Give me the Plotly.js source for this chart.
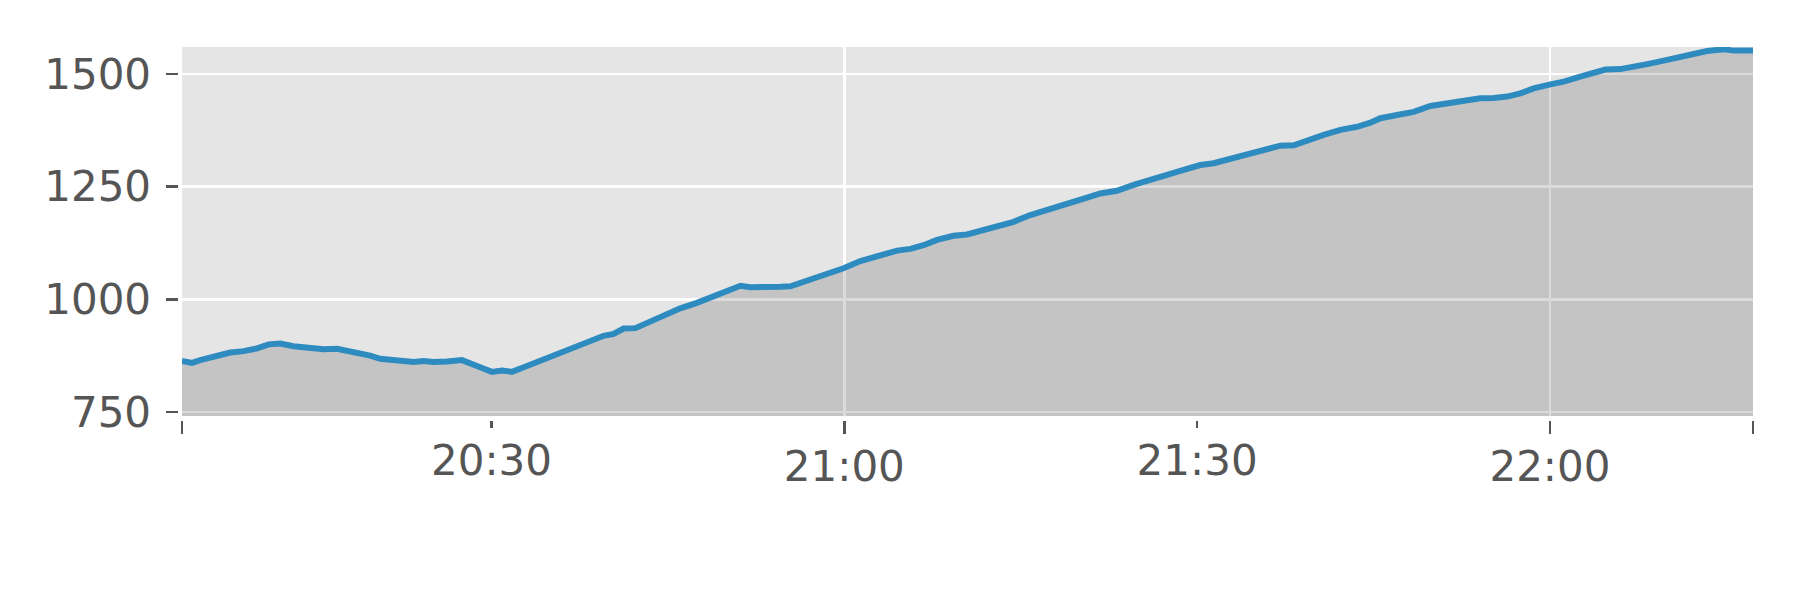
<!DOCTYPE html>
<html>
<head>
<meta charset="utf-8">
<script src="https://cdn.plot.ly/plotly-3.0.1.min.js"></script>
<style>html,body{margin:0;padding:0;background:#fff;}#chart{width:1800px;height:600px;}</style>
</head>
<body>
<div id="chart"></div>
<script>
const day = '2021-01-01 ';
const times = [
  '20:03:41','20:04:32','20:05:14','20:06:22','20:07:47','20:08:55','20:10:04','20:11:03','20:12:02','20:13:10',
  '20:14:35','20:15:43','20:16:52','20:17:34','20:18:08','20:18:50','20:19:41','20:20:32','20:21:41','20:23:23',
  '20:24:14','20:25:05','20:26:13','20:27:29','20:28:46','20:30:02','20:30:53','20:31:44','20:33:01','20:34:43',
  '20:35:59','20:37:33','20:39:32','20:40:23','20:41:14','20:42:14','20:43:13','20:44:38','20:46:03','20:47:28',
  '20:48:53','20:50:02','20:51:10','20:52:01','20:53:26','20:54:34','20:55:25','20:56:16','20:57:23','20:58:49',
  '20:59:56','21:01:22','21:03:04','21:04:29','21:05:37','21:06:44','21:07:53','21:09:17','21:10:26','21:11:34',
  '21:12:59','21:14:24','21:15:49','21:17:14','21:18:22','21:19:30','21:20:55','21:21:46','21:23:11','21:24:36',
  '21:26:01','21:27:09','21:28:34','21:30:16','21:31:24','21:32:49','21:34:14','21:35:39','21:37:04','21:38:13',
  '21:39:21','21:40:46','21:42:11','21:43:36','21:44:44','21:45:35','21:47:00','21:48:25','21:49:50','21:51:15',
  '21:52:40','21:54:05','21:55:13','21:56:21','21:57:29','21:58:37','22:00:02','22:01:10','22:02:35','22:03:43',
  '22:04:43','22:05:59','22:07:07','22:08:16','22:09:23','22:10:49','22:12:13','22:13:22','22:14:46','22:15:37',
  '22:16:46','22:17:16'
];
const values = [
  863, 859, 865, 874, 882, 885, 891, 900, 902, 896,
  893, 889, 890, 887, 882, 882, 875, 868, 865, 861,
  863, 861, 862, 865, 852, 839, 842, 839, 852, 869,
  880, 899, 919, 923, 935, 936, 948, 965, 980, 992,
  1007, 1018, 1030, 1027, 1026, 1028, 1029, 1036, 1047, 1059,
  1069, 1085, 1098, 1108, 1112, 1120, 1132, 1141, 1144, 1152,
  1160, 1172, 1187, 1198, 1205, 1217, 1228, 1235, 1241, 1254,
  1267, 1274, 1285, 1298, 1302, 1311, 1320, 1329, 1341, 1342,
  1353, 1365, 1376, 1383, 1392, 1402, 1409, 1416, 1429, 1435,
  1440, 1446, 1447, 1450, 1457, 1468, 1477, 1483, 1494, 1504,
  1510, 1511, 1518, 1522, 1528, 1537, 1546, 1551, 1555, 1552,
  1552, 1552
];
const yTicks = [750, 1000, 1250, 1500];
const yRange = [741, 1560];
const majorTicks = ['21:00', '22:00'];
const minorTicks = ['20:30', '21:30'];

const x = times.map(t => day + t);
const xRange = [x[0], x[x.length - 1]];
const txtColor = '#555555';
const font = {family: 'DejaVu Sans', size: 42, color: txtColor};
const xDomain = [182/1800, 1753/1800];
const yDomain = [1 - 416/600, 1 - 47/600];
const axPos = 1 - 420/600;

const trace = {
  x: x, y: values, type: 'scatter', mode: 'lines',
  line: {color: '#2E8BC0', width: 6},
  fill: 'tozeroy', fillcolor: 'rgba(0,0,0,0.14)',
  hoverinfo: 'skip', showlegend: false
};
const dummy2 = {x: xRange, y: yRange, xaxis: 'x2', yaxis: 'y', mode: 'none', type: 'scatter', hoverinfo: 'skip', showlegend: false};
const dummy3 = {x: xRange, y: yRange, xaxis: 'x3', yaxis: 'y', mode: 'none', type: 'scatter', hoverinfo: 'skip', showlegend: false};

const layout = {
  width: 1800, height: 600,
  margin: {l: 0, r: 0, t: 0, b: 0, pad: 0},
  paper_bgcolor: '#ffffff', plot_bgcolor: '#E5E5E5',
  font: font,
  showlegend: false,
  xaxis: {
    type: 'date', range: xRange, domain: xDomain, anchor: 'free', position: axPos,
    tickmode: 'array', tickvals: majorTicks.map(t => day + t), ticktext: majorTicks,
    ticks: 'outside', ticklen: 13, tickwidth: 2.5, tickcolor: txtColor,
    showgrid: true, gridcolor: '#ffffff', gridwidth: 2.5,
    zeroline: false, showline: false, tickfont: font, ticklabelstandoff: -3
  },
  xaxis2: {
    type: 'date', range: xRange, domain: xDomain, anchor: 'free', position: axPos, overlaying: 'x',
    tickmode: 'array', tickvals: minorTicks.map(t => day + t), ticktext: minorTicks,
    ticks: 'outside', ticklen: 7, tickwidth: 2.5, tickcolor: txtColor,
    showgrid: false, zeroline: false, showline: false, tickfont: font, ticklabelstandoff: -3
  },
  xaxis3: {
    type: 'date', range: xRange, domain: xDomain, anchor: 'free', position: axPos, overlaying: 'x',
    tickmode: 'array', tickvals: xRange, ticktext: ['', ''],
    ticks: 'outside', ticklen: 13, tickwidth: 2.5, tickcolor: txtColor,
    showgrid: false, zeroline: false, showline: false, showticklabels: false
  },
  yaxis: {
    range: yRange, domain: yDomain, anchor: 'free', position: 177.5/1800,
    tickmode: 'array', tickvals: yTicks,
    ticks: 'outside', ticklen: 12, tickwidth: 2.5, tickcolor: txtColor,
    showgrid: true, gridcolor: '#ffffff', gridwidth: 2.5,
    zeroline: false, showline: false, tickfont: font, ticklabelstandoff: 6
  }
};

Plotly.newPlot('chart', [trace, dummy2, dummy3], layout, {staticPlot: true, displayModeBar: false});
</script>
</body>
</html>
